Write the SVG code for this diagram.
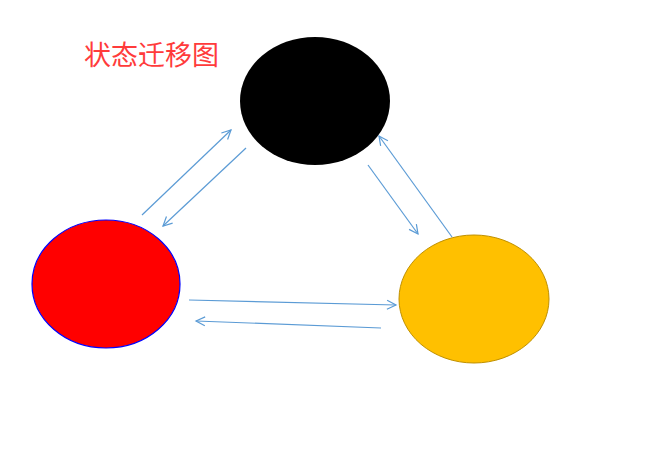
<svg xmlns="http://www.w3.org/2000/svg" width="665" height="449" viewBox="0 0 665 449">
<style>
.c{stroke:#5B9BD5;stroke-width:1.2;fill:none;marker-end:url(#a)}
.t{font-family:"Noto Sans CJK SC","Noto Sans",sans-serif;font-size:27px;fill:#FF3B3B}
</style>
<defs>
<marker id="a" markerWidth="12" markerHeight="12" refX="10" refY="5" orient="auto" markerUnits="userSpaceOnUse" viewBox="0 0 12 10">
<path d="M1,0.5 L10,5 L1,9.5" fill="none" stroke="#5B9BD5" stroke-width="1.2"/>
</marker>
</defs>
<rect width="665" height="449" fill="#fff"/>
<text class="t" x="84" y="65">状态迁移图</text>
<g id="black"><ellipse cx="315" cy="101" rx="75" ry="64" fill="#000"/></g>
<g id="red"><ellipse cx="106" cy="284" rx="74" ry="64" fill="#FF0000" stroke="#0000FF" stroke-width="1.2"/></g>
<g id="yellow"><ellipse cx="474" cy="299" rx="75" ry="64" fill="#FFC000" stroke="#BF9000" stroke-width="1"/></g>
<g id="connectors">
<line class="c" x1="142" y1="215" x2="231" y2="130"/>
<line class="c" x1="246" y1="148" x2="163" y2="226"/>
<line class="c" x1="368" y1="165" x2="418" y2="234"/>
<line class="c" x1="452" y1="237" x2="379" y2="136"/>
<line class="c" x1="189" y1="300" x2="396" y2="305"/>
<line class="c" x1="381" y1="328" x2="196" y2="321"/>
</g>
</svg>
